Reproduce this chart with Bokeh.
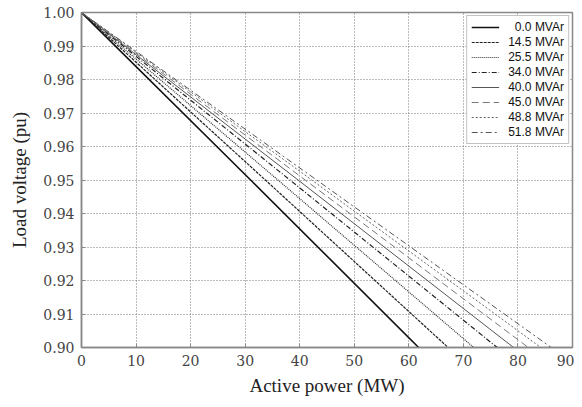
from bokeh.plotting import figure
from bokeh.models import Legend, LegendItem, FixedTicker, PrintfTickFormatter, Range1d
from bokeh.embed import file_html
from bokeh.resources import INLINE

# Data: active power (MW) at load voltage 1.00, 0.95, 0.90 pu
voltage = [1.00, 0.95, 0.90]
q_labels = ["\u20070.0 MVAr", "14.5 MVAr", "25.5 MVAr", "34.0 MVAr",
            "40.0 MVAr", "45.0 MVAr", "48.8 MVAr", "51.8 MVAr"]
p_00 = [0.0, 31.0, 61.8]
p_145 = [0.0, 33.7, 67.2]
p_255 = [0.0, 36.0, 71.9]
p_340 = [0.0, 38.2, 76.2]
p_400 = [0.0, 39.7, 79.2]
p_450 = [0.0, 41.0, 81.9]
p_488 = [0.0, 42.2, 84.2]
p_518 = [0.0, 43.1, 86.1]
series = [p_00, p_145, p_255, p_340, p_400, p_450, p_488, p_518]
x_ticks = [0, 10, 20, 30, 40, 50, 60, 70, 80, 90]
y_ticks = [0.90, 0.91, 0.92, 0.93, 0.94, 0.95, 0.96, 0.97, 0.98, 0.99, 1.00]

styles = [
    dict(color="#111111", width=1.6, dash="solid"),
    dict(color="#222222", width=1.2, dash="3 1"),
    dict(color="#333333", width=1.2, dash="1 1"),
    dict(color="#222222", width=1.2, dash="5 2 1 2"),
    dict(color="#555555", width=1.0, dash="solid"),
    dict(color="#777777", width=1.0, dash="7 4"),
    dict(color="#666666", width=1.0, dash="2 2"),
    dict(color="#555555", width=1.0, dash="6 3 2 3"),
]

p = figure(width=574, height=399, output_backend="svg", toolbar_location=None,
           x_range=Range1d(0, 90), y_range=Range1d(0.90, 1.00),
           min_border_left=81, min_border_right=2, min_border_top=12, min_border_bottom=52)
p.background_fill_color = "white"
p.border_fill_color = "white"
p.outline_line_color = "#888888"
p.outline_line_width = 1.5

items = []
for s, lab, st in zip(series, q_labels, styles):
    r = p.line(s, voltage, line_color=st["color"], line_width=st["width"], line_dash=st["dash"])
    items.append(LegendItem(label=lab, renderers=[r]))

legend = Legend(items=items, location="top_right", label_text_font="Liberation Sans",
                label_text_font_size="12px", label_text_color="#111111",
                glyph_width=28, glyph_height=10, label_height=10, spacing=1,
                padding=4, margin=3, border_line_color="#888888", border_line_width=1.2,
                label_standoff=9, background_fill_alpha=1.0)
p.add_layout(legend)

for ax in (p.xaxis[0], p.yaxis[0]):
    ax.axis_line_color = "#888888"
    ax.axis_line_width = 1.5
    ax.major_tick_out = 0
    ax.major_tick_in = 4
    ax.major_tick_line_color = "#888888"
    ax.minor_tick_line_color = None
    ax.major_label_text_font = "DejaVu Serif"
    ax.major_label_text_font_size = "14px"
    ax.major_label_text_color = "#444444"
    ax.axis_label_text_font = "Liberation Serif"
    ax.axis_label_text_font_size = "19px"
    ax.axis_label_text_font_style = "normal"
    ax.axis_label_text_color = "#222222"

p.xaxis.ticker = FixedTicker(ticks=x_ticks)
p.yaxis.ticker = FixedTicker(ticks=y_ticks)
p.yaxis.formatter = PrintfTickFormatter(format="%.2f")
p.xaxis.axis_label = "Active power (MW)"
p.yaxis.axis_label = "Load voltage (pu)"
p.xaxis.major_label_standoff = 7
p.yaxis.major_label_standoff = 7
p.xaxis.axis_label_standoff = 6
p.yaxis.axis_label_standoff = 10

for g, t in ((p.xgrid[0], x_ticks), (p.ygrid[0], y_ticks)):
    g.grid_line_color = "#777777"
    g.grid_line_dash = "1 2"
    g.grid_line_width = 1
    g.ticker = FixedTicker(ticks=t)

open("out.html", "w").write(file_html(p, INLINE))
